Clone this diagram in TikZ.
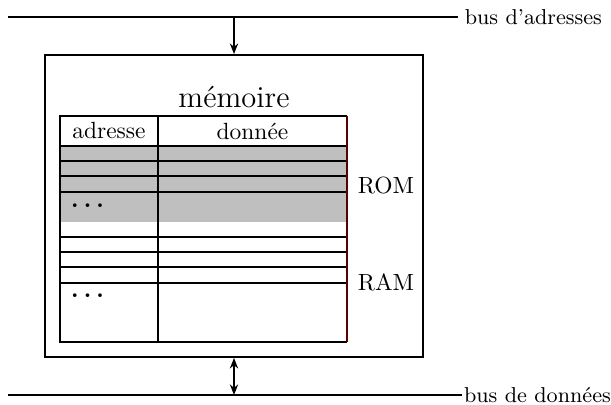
\documentclass[tikz,border=0pt]{standalone}
\usepackage{tikz}
\usetikzlibrary{positioning,arrows.meta}

\newcommand{\pdots}{\textbf{.\hskip 2.2pt.\hskip 2.2pt.}}

\begin{document}
\begin{tikzpicture}[line width=0.8pt, >={Stealth[length=4.5pt,width=3.5pt]},
    every node/.style={inner sep=1.5pt},
    buslabel/.style={anchor=west, inner sep=2.5pt, font=\fontsize{9.2}{11}\selectfont},
    cellline/.style={line width=0.8pt},
    romfill/.style={fill=black!25}]
  \useasboundingbox (0,0) rectangle (9.165,6.075);
  % bus d'adresses
  \coordinate (abus0) at (0.12,5.82);
  \node[buslabel] (abus) at (6.87,5.82) {bus d'adresses};
  \draw (abus0) -- (abus.west);
  % memoire
  \node[draw, minimum width=5.67cm, minimum height=4.53cm] (mem) at (3.51,2.985) {};
  \node[font=\fontsize{13}{15}\selectfont] (titre) at (3.51,4.62) {mémoire};
  \coordinate (aj) at (mem.north |- abus0);
  \draw[->] (aj) -- (mem.north);
  % table adresse / donnee
  \fill[romfill] (0.9,2.745) rectangle (5.205,3.885);
  \foreach \y in {3.885,3.66,3.435,3.195,2.52,2.295,2.07,1.83}
    \draw[cellline] (0.9,\y) -- (5.205,\y);
  \draw[cellline] (2.37,0.945) -- (2.37,4.335);
  \draw[cellline] (5.205,4.335) -- (0.9,4.335) -- (0.9,0.945) -- (5.205,0.945);
  \draw[cellline, red!35!black] (5.205,0.945) -- (5.205,4.335);
  \node (adr) at (1.635,4.11) {adresse};
  \node (don) at (3.7875,4.11) {donnée};
  \node[anchor=west] (pr1) at (1.0,2.99) {\pdots};
  \node[anchor=west] (pr2) at (1.0,1.64) {\pdots};
  \node (rom) at (5.79,3.285) {ROM};
  \node (ram) at (5.79,1.845) {RAM};
  % bus de donnees
  \coordinate (dbus0) at (0.12,0.15);
  \node[buslabel, inner sep=0.5pt] (dbus) at (6.93,0.15) {bus de données};
  \draw (dbus0) -- (dbus.west);
  \coordinate (dj) at (mem.south |- dbus0);
  \draw[<->] (dj) -- (mem.south);
\end{tikzpicture}
\end{document}
